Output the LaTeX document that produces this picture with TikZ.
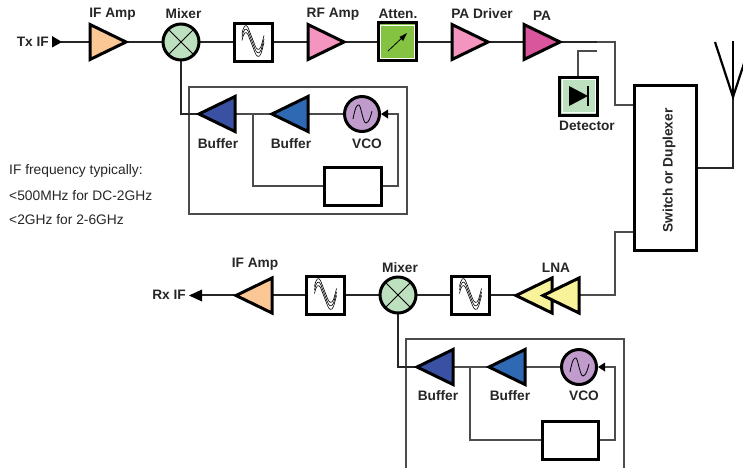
\documentclass[tikz,border=0pt]{standalone}
\usepackage{fontspec}
\setmainfont{Liberation Sans}
\begin{document}
\begin{tikzpicture}[x=1pt,y=-1pt,
  wire/.style={draw=black!70,line width=1.1pt},
  wired/.style={draw=black!85,line width=1.1pt},
  blockline/.style={draw=black,line width=3pt,line join=miter},
  lbl/.style={font=\fontsize{13.7}{14}\selectfont\bfseries,inner sep=0pt,text=black!85},
  note/.style={font=\fontsize{13.8}{14}\selectfont,inner sep=0pt,anchor=west,text=black!85},
  box/.style={draw=black,line width=3pt,minimum width=37pt,minimum height=37pt,inner sep=0pt,fill=white,outer sep=0pt},
  tip/.style={fill=black,draw=none}]
\useasboundingbox (0,0) rectangle (743,467);
\clip (0,0) rectangle (743,467);
\definecolor{cif}{HTML}{FBC795}
\definecolor{cmix}{HTML}{BDE0BE}
\definecolor{crf}{HTML}{F495BF}
\definecolor{cpa}{HTML}{D9559C}
\definecolor{cbufa}{HTML}{3A50A3}
\definecolor{cbufb}{HTML}{2F69B3}
\definecolor{cvco}{HTML}{BF9CCB}
\definecolor{catt}{HTML}{83C341}
\definecolor{clna}{HTML}{F8F39B}
\newcommand{\ampR}[3]{\draw[blockline,fill=#3] (#1,#2-17.5) -- (#1+36,#2) -- (#1,#2+17.5) -- cycle;}
\newcommand{\ampL}[3]{\draw[blockline,fill=#3] (#1,#2-17.5) -- (#1-36,#2) -- (#1,#2+17.5) -- cycle;}
\newcommand{\filt}[2]{\begin{scope}[shift={(#1,#2)}]
 \foreach \d in {-3.5,0,3.5}{\draw[black,line width=.6pt] (-11,\d-5) .. controls (-9.5,\d-13) and (-7,\d-15) .. (-5,\d-11) -- (2,\d+7) .. controls (3.5,\d+11) and (6,\d+13) .. (8,\d+8) .. controls (9,\d+5) and (10,\d+1) .. (11,\d-3);}
 \end{scope}}
% LO frames
\draw[wire] (189,87) rectangle (407,214);
\draw[wire] (406,500) -- (406,339) -- (624,339) -- (624,500);
% wires
\coordinate (txin) at (61,42);
\coordinate (txj) at (615,42);
\coordinate (txk) at (615,105);
\coordinate (rxa) at (615,232);
\coordinate (rxb) at (615,295);
\node[inner sep=0,minimum size=0] (swl) at (633,105) {};
\draw[wired] (txin) -- (180,42) -- (597,42);
\draw[wire] (597,42) -- (txj) -- (txk) -- (swl);
\draw[wire] (633,232) -- (rxa) -- (rxb) -- (570,295);
\draw[wired] (202,295) -- (450,295) -- (520,295);
\draw[wired] (181,60) -- (181,114) -- (200,114);
\draw[wire] (198,114) -- (345,114);
\draw[wire] (253,114) -- (253,186) -- (323,186);
\draw[wire] (382,186) -- (398,186) -- (398,114) -- (388,114);
\draw[wired] (398,312) -- (398,367) -- (418,367);
\draw[wire] (416,367) -- (562,367);
\draw[wire] (470,367) -- (470,440) -- (541,440);
\draw[wire] (599,440) -- (615,440) -- (615,367) -- (605,367);
\draw[wire] (597,51) -- (578,51) -- (578,76);
% antenna
\draw[wired] (698,168) -- (733,168) -- (733,97);
\draw[black,line width=2.2pt,line join=miter] (715,42) -- (733,97) -- (751,42);
\draw[black,line width=2.6pt] (733,97) -- (733,41);
% Tx chain
\fill[tip] (52,36) -- (62,42) -- (52,47.5) -- cycle;
\ampR{90}{42}{cif}
\draw[blockline,fill=cmix] (181,42) circle (18);
\draw[black,line width=.8pt] (168.3,29.3) -- (193.7,54.7) (168.3,54.7) -- (193.7,29.3);
\node[box,minimum width=38pt,minimum height=38pt] (f1) at (253,42) {};
\filt{253}{42}
\ampR{308}{42}{crf}
\node[box,minimum width=38pt,minimum height=38pt,fill=catt] (att) at (397.5,41.5) {};
\draw[white,line width=.8pt] (380.5,25) rectangle (414.5,58.5);
\draw[black,line width=.8pt] (388,51) -- (404,36);
\fill[black] (407,33) -- (403,41) -- (399.5,37) -- cycle;
\ampR{452}{42}{crf}
\ampR{524}{42}{cpa}
% detector
\node[box,minimum width=38pt,minimum height=38pt,fill=cmix] (det) at (578.5,96) {};
\draw[white,line width=.8pt] (562,79.5) rectangle (595,112.5);
\fill[black] (569,86) -- (588,96) -- (569,106) -- cycle;
\draw[black,line width=2pt] (588,86) -- (588,106);
% switch
\node[box,minimum width=62pt,minimum height=165pt] (sw) at (665.5,168) {};
\node[lbl,rotate=90] at (669,170.5) {Switch or Duplexer};
% top LO
\ampL{235}{114}{cbufa}
\ampL{308}{114}{cbufb}
\draw[blockline,fill=cvco] (362,114) circle (17.5);
\draw[black,line width=.8pt] (353,119) .. controls (355,108) and (357,104) .. (359,105) .. controls (361,106) and (363,123) .. (366,123) .. controls (369,123) and (371,115) .. (372,111);
\fill[tip] (381,114) -- (388,109.5) -- (388,118.5) -- cycle;
\draw[blockline] (324,167) rectangle (381,205);
% Rx chain
\fill[tip] (189,295.5) -- (202,289.5) -- (202,301.5) -- cycle;
\ampL{272}{295.5}{cif}
\node[box,minimum width=38pt,minimum height=38pt] (f2) at (325.5,295) {};
\filt{325.5}{295}
\draw[blockline,fill=cmix] (398,295) circle (18);
\draw[black,line width=.8pt] (385.3,282.3) -- (410.7,307.7) (385.3,307.7) -- (410.7,282.3);
\node[box,minimum width=38pt,minimum height=38pt] (f3) at (470.5,295) {};
\filt{470.5}{295}
\ampL{552}{295.5}{clna}
\ampL{579}{295.5}{clna}
% bottom LO
\ampL{453}{367}{cbufa}
\ampL{525}{367}{cbufb}
\draw[blockline,fill=cvco] (579,367) circle (17.5);
\draw[black,line width=.8pt] (570,372) .. controls (572,361) and (574,357) .. (576,358) .. controls (578,359) and (580,376) .. (583,376) .. controls (586,376) and (588,368) .. (589,364);
\fill[tip] (598,367) -- (605,362.5) -- (605,371.5) -- cycle;
\draw[blockline] (542,421) rectangle (598,459);
% labels
\node[lbl,anchor=east] at (49,42) {Tx IF};
\node[lbl] at (112.5,14) {IF Amp};
\node[lbl] at (183.5,14) {Mixer};
\node[lbl] at (333,14) {RF Amp};
\node[lbl] at (398,14) {Atten.};
\node[lbl] at (482,14) {PA Driver};
\node[lbl] at (542,16) {PA};
\node[lbl] at (587,126) {Detector};
\node[lbl] at (218,144) {Buffer};
\node[lbl] at (291,144) {Buffer};
\node[lbl] at (367,144) {VCO};
\node[lbl] at (255,264) {IF Amp};
\node[lbl] at (400,268) {Mixer};
\node[lbl] at (556,268) {LNA};
\node[lbl,anchor=east] at (186,295) {Rx IF};
\node[lbl] at (438,396) {Buffer};
\node[lbl] at (510,396) {Buffer};
\node[lbl] at (584,396) {VCO};
\node[note] at (9,171) {IF frequency typically:};
\node[note] at (9,195.5) {<500MHz for DC-2GHz};
\node[note] at (9,220) {<2GHz for 2-6GHz};
\end{tikzpicture}
\end{document}
